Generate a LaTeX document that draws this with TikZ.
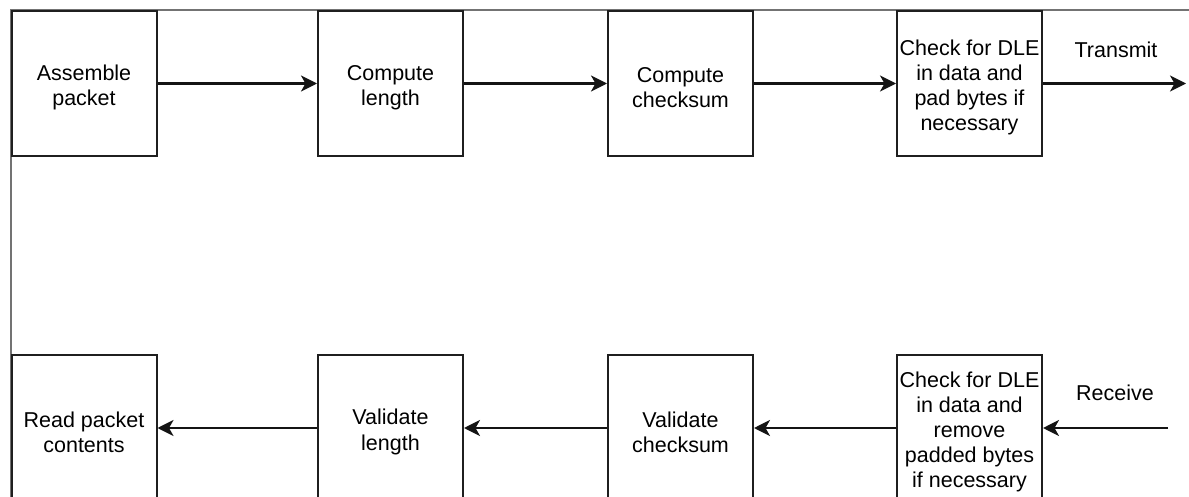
\documentclass[tikz,border=0pt]{standalone}
\usepackage{fontspec}
\setmainfont{Liberation Sans}
\usetikzlibrary{arrows.meta}
\begin{document}
\begin{tikzpicture}[x=1pt,y=-1pt,
  stepbox/.style={draw=black!88, line width=2pt, minimum width=145pt, minimum height=145pt,
    inner sep=0pt},
  boxtext/.style={align=center, inner sep=0pt, yshift=-4pt, font=\fontsize{21.5pt}{25.2pt}\selectfont},
  lbl/.style={font=\fontsize{21.5pt}{25.2pt}\selectfont, inner sep=0pt},
  flow/.style={draw=black!92, line width=2.1pt, -{Stealth[length=16pt,width=16pt,inset=4.5pt]}},
  frame/.style={draw=black!55, line width=1.2pt}]
\useasboundingbox (0,0) rectangle (1189,497);
% outer frame (partially visible)
\coordinate (f0) at (11,520);
\coordinate (f1) at (11,10);
\coordinate (f2) at (1200,10);
\draw[frame] (f0) -- (f1) -- (f2);
% top row
\node[stepbox, label={[boxtext]center:Assemble\\packet}] (a1) at (84,83.5) {};
\node[stepbox, label={[boxtext]center:Compute\\length}] (a2) at (390.5,83.5) {};
\node[stepbox, label={[boxtext]center:Compute\\checksum}] (a3) at (680.5,83.5) {};
\node[stepbox, label={[boxtext]center:Check for DLE\\in data and\\pad bytes if\\necessary}] (a4) at (969.5,83.5) {};
\coordinate (tx) at (1186,83.5);
\node[lbl] (tlab) at (1116,50) {Transmit};
\draw[flow] (a1) -- (a2);
\draw[flow] (a2) -- (a3);
\draw[flow] (a3) -- (a4);
\draw[flow] (a4.east) -- (tx);
% bottom row
\node[stepbox, minimum height=146pt, label={[boxtext]center:Read packet\\contents}] (b1) at (84,428) {};
\node[stepbox, minimum height=146pt, label={[boxtext]center:Validate\\length}] (b2) at (390.5,428) {};
\node[stepbox, minimum height=146pt, label={[boxtext]center:Validate\\checksum}] (b3) at (680.5,428) {};
\node[stepbox, minimum height=146pt, label={[boxtext]center:Check for DLE\\in data and\\remove\\padded bytes\\if necessary}] (b4) at (969.5,428) {};
\coordinate (rx) at (1168,428);
\node[lbl] (rlab) at (1115,393) {Receive};
\draw[flow] (rx) -- (b4.east);
\draw[flow] (b4) -- (b3);
\draw[flow] (b3) -- (b2);
\draw[flow] (b2) -- (b1);
\end{tikzpicture}
\end{document}
